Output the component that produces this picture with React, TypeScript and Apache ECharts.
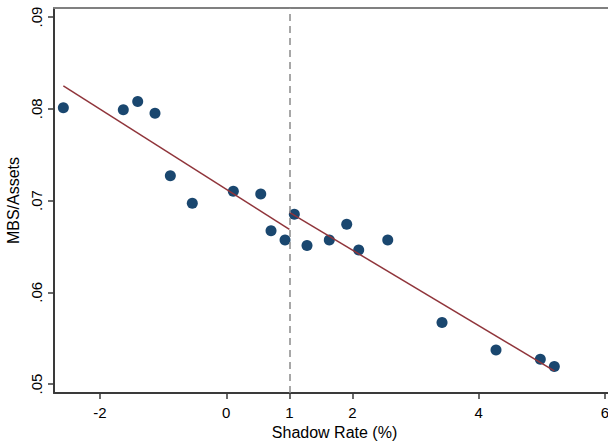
import React, { useEffect, useRef } from "react";
import * as echarts from "echarts";

// Shadow rate (%) vs. MBS share of assets, one point per period
const shadowRate = [
  -2.581, -1.631, -1.403, -1.129, -0.886, -0.538, 0.112, 0.546, 0.709, 0.931,
  1.078, 1.279, 1.632, 1.908, 2.098, 2.558, 3.418, 4.273, 4.975, 5.197,
];
const mbsAssets = [
  0.0801, 0.0799, 0.0808, 0.0795, 0.0727, 0.0697, 0.0710, 0.0707, 0.0667, 0.0657,
  0.0685, 0.0651, 0.0657, 0.0674, 0.0646, 0.0657, 0.0567, 0.0537, 0.0527, 0.0519,
];

// Linear fits on either side of the 1% threshold (end points)
const fitLeftX = [-2.581, 1];
const fitLeftY = [0.0825, 0.06686];
const fitRightX = [1, 5.197];
const fitRightY = [0.06871, 0.05142];

const threshold = 1;

const xTicks = [-2, 0, 1, 2, 4, 6];
const yTicks = [0.05, 0.06, 0.07, 0.08, 0.09];

const X_MIN = -2.729;
const X_MAX = 6.158;
const Y_MIN = 0.04902;
const Y_MAX = 0.09098;

const FONT = "'Liberation Sans', Arial, Helvetica, sans-serif";
const AXIS_COLOR = "#3a3a3a";

export default function App() {
  const ref = useRef<HTMLDivElement>(null);

  useEffect(() => {
    if (!ref.current) return;
    const chart = echarts.init(ref.current, undefined, { renderer: "svg" });

    const points = shadowRate.map((x, i) => [x, mbsAssets[i]]);
    const leftFit = fitLeftX.map((x, i) => [x, fitLeftY[i]]);
    const rightFit = fitRightX.map((x, i) => [x, fitRightY[i]]);

    chart.setOption({
      animation: false,
      backgroundColor: "#ffffff",
      textStyle: { fontFamily: FONT },
      grid: {
        left: 54,
        right: -7,
        top: 8,
        bottom: 48,
        containLabel: false,
        outerBoundsMode: "none",
      },
      xAxis: [
        {
          type: "value",
          position: "bottom",
          min: X_MIN,
          max: X_MAX,
          splitLine: { show: false },
          axisLine: { show: true, onZero: false, lineStyle: { color: AXIS_COLOR, width: 2 } },
          axisTick: {
            show: true,
            customValues: xTicks,
            length: 6,
            lineStyle: { color: AXIS_COLOR, width: 1.5 },
          },
          axisLabel: {
            customValues: xTicks,
            formatter: (v: number) => String(v),
            fontSize: 15,
            color: "#000",
            fontFamily: FONT,
            margin: 12,
          },
          name: "Shadow Rate (%)",
          nameLocation: "middle",
          nameGap: 29,
          nameTextStyle: { fontSize: 16, color: "#000", fontFamily: FONT },
        },
        {
          // plot region top border
          type: "value",
          position: "top",
          min: X_MIN,
          max: X_MAX,
          splitLine: { show: false },
          axisLine: { show: true, onZero: false, lineStyle: { color: "#808080", width: 2 } },
          axisTick: { show: false },
          axisLabel: { show: false },
        },
      ],
      yAxis: {
        type: "value",
        min: Y_MIN,
        max: Y_MAX,
        splitLine: { show: false },
        axisLine: { show: true, onZero: false, lineStyle: { color: AXIS_COLOR, width: 2 } },
        axisTick: {
          show: true,
          customValues: yTicks,
          length: 6,
          lineStyle: { color: AXIS_COLOR, width: 1.5 },
        },
        axisLabel: {
          customValues: yTicks,
          rotate: 90,
          formatter: (v: number) => v.toFixed(2).replace(/^0/, ""),
          fontSize: 15,
          color: "#000",
          fontFamily: FONT,
          margin: 10,
        },
        name: "MBS/Assets",
        nameLocation: "middle",
        nameGap: 28,
        nameTextStyle: { fontSize: 16, color: "#000", fontFamily: FONT },
      },
      series: [
        {
          type: "scatter",
          xAxisIndex: 0,
          data: points,
          symbol: "circle",
          symbolSize: 11,
          itemStyle: { color: "#1a476f", opacity: 1 },
          markLine: {
            silent: true,
            symbol: ["none", "none"],
            label: { show: false },
            lineStyle: { color: "#8a8a8a", width: 1.5, type: [7, 5] },
            data: [{ xAxis: threshold }],
          },
          z: 3,
        },
        {
          type: "line",
          xAxisIndex: 0,
          data: leftFit,
          showSymbol: false,
          lineStyle: { color: "#90353b", width: 1.5 },
          z: 4,
        },
        {
          type: "line",
          xAxisIndex: 0,
          data: rightFit,
          showSymbol: false,
          lineStyle: { color: "#90353b", width: 1.5 },
          z: 4,
        },
      ],
    });

    return () => chart.dispose();
  }, []);

  return (
    <div
      ref={ref}
      style={{ position: "fixed", left: 0, top: 0, width: 608, height: 441, background: "#fff" }}
    />
  );
}
